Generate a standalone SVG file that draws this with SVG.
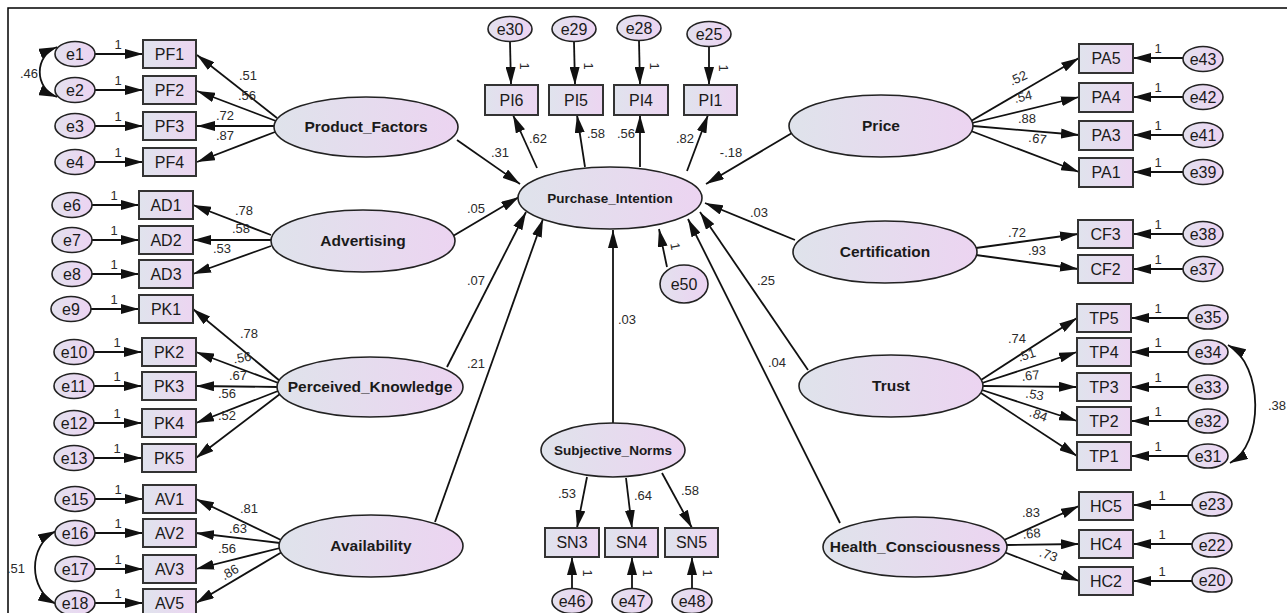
<svg xmlns="http://www.w3.org/2000/svg" width="1287" height="613" viewBox="0 0 1287 613">
<defs>
<linearGradient id="gl" x1="0" y1="0" x2="1" y2="0"><stop offset="0" stop-color="#dfe3eb"/><stop offset="1" stop-color="#ecd4f1"/></linearGradient>
<linearGradient id="gb" x1="0" y1="0" x2="1" y2="0"><stop offset="0" stop-color="#e0e3ed"/><stop offset="1" stop-color="#ecd5f1"/></linearGradient>
<linearGradient id="ge" x1="0" y1="0" x2="1" y2="0"><stop offset="0" stop-color="#e3e1ee"/><stop offset="1" stop-color="#ecd3f2"/></linearGradient>
<marker id="ah" viewBox="0 0 18 10" refX="18" refY="5" markerWidth="18" markerHeight="10" markerUnits="userSpaceOnUse" orient="auto-start-reverse"><path d="M0,0 L18,5 L0,10 z" fill="#111"/></marker>
</defs>
<style>
.lat{fill:url(#gl);stroke:#222;stroke-width:1.6}
.box{fill:url(#gb);stroke:#333;stroke-width:2}
.err{fill:url(#ge);stroke:#222;stroke-width:1.6}
.lt{font-family:'Liberation Sans',Arial,sans-serif;font-weight:bold;font-size:15.5px;text-anchor:middle;fill:#1a1a1a}
.bt{font-family:'Liberation Sans',Arial,sans-serif;font-size:16px;text-anchor:middle;fill:#1a1a1a}
.et{font-family:'Liberation Sans',Arial,sans-serif;font-size:16px;text-anchor:middle;fill:#1a1a1a}
.nl{font-family:'Liberation Sans',Arial,sans-serif;font-size:13px;text-anchor:middle;fill:#2a2a2a}
.c line,.c path{stroke:#111;stroke-width:1.8;fill:none;marker-end:url(#ah)}
.c path.dbl{marker-start:url(#ah)}
</style>
<rect x="0" y="0" width="1287" height="613" fill="#fff"/>
<rect x="8" y="8" width="1300" height="620" fill="none" stroke="#000" stroke-width="1.5"/>

<g id="connectors" class="c">
<line x1="95" y1="54" x2="143" y2="54"/>
<line x1="95" y1="90" x2="143" y2="90"/>
<line x1="95" y1="126" x2="143" y2="126"/>
<line x1="95" y1="162" x2="143" y2="162"/>
<line x1="92" y1="205" x2="139" y2="205"/>
<line x1="92" y1="240" x2="139" y2="240"/>
<line x1="92" y1="274" x2="139" y2="274"/>
<line x1="91" y1="309" x2="139" y2="309"/>
<line x1="94" y1="352" x2="142" y2="352"/>
<line x1="94" y1="386" x2="142" y2="386"/>
<line x1="94" y1="423" x2="142" y2="423"/>
<line x1="94" y1="458" x2="142" y2="458"/>
<line x1="95" y1="499" x2="143" y2="499"/>
<line x1="95" y1="533" x2="143" y2="533"/>
<line x1="95" y1="569" x2="143" y2="569"/>
<line x1="95" y1="603" x2="143" y2="603"/>
<line x1="277" y1="118" x2="197" y2="55"/>
<line x1="276" y1="121" x2="197" y2="91"/>
<line x1="274" y1="126" x2="197" y2="126"/>
<line x1="275" y1="132" x2="197" y2="162"/>
<line x1="271" y1="235" x2="193" y2="205"/>
<line x1="271" y1="240" x2="193" y2="240"/>
<line x1="271" y1="246" x2="193" y2="274"/>
<line x1="280" y1="381" x2="193" y2="309"/>
<line x1="281" y1="384" x2="196" y2="352"/>
<line x1="278" y1="387" x2="196" y2="386"/>
<line x1="278" y1="391" x2="196" y2="423"/>
<line x1="280" y1="394" x2="196" y2="458"/>
<line x1="281" y1="540" x2="196" y2="499"/>
<line x1="280" y1="543" x2="196" y2="533"/>
<line x1="280" y1="548" x2="196" y2="569"/>
<line x1="282" y1="552" x2="196" y2="603"/>
<path class="dbl" d="M57 47 C34 56, 34 88, 57 97"/>
<path class="dbl" d="M56 531 C28 545, 28 590, 56 604"/>
<path class="dbl" d="M1228 345 C1264 365, 1264 445, 1230 463"/>
<line x1="457" y1="140" x2="520" y2="184"/>
<line x1="453" y1="236" x2="519" y2="197"/>
<line x1="447" y1="367" x2="526" y2="212"/>
<line x1="435" y1="522" x2="543" y2="219"/>
<line x1="613" y1="423" x2="613" y2="230"/>
<line x1="667" y1="267" x2="659" y2="229"/>
<line x1="792" y1="133" x2="706" y2="184"/>
<line x1="795" y1="240" x2="705" y2="203"/>
<line x1="808" y1="370" x2="700" y2="212"/>
<line x1="840" y1="523" x2="688" y2="219"/>
<line x1="537" y1="168" x2="513" y2="115"/>
<line x1="585" y1="167" x2="577" y2="115"/>
<line x1="640" y1="167" x2="640" y2="115"/>
<line x1="687" y1="171" x2="708" y2="115"/>
<line x1="510" y1="42" x2="511" y2="85"/>
<line x1="574" y1="42" x2="575" y2="85"/>
<line x1="639" y1="41" x2="640" y2="85"/>
<line x1="709" y1="47" x2="709" y2="85"/>
<line x1="587" y1="477" x2="577" y2="528"/>
<line x1="626" y1="478" x2="632" y2="528"/>
<line x1="662" y1="473" x2="692" y2="528"/>
<line x1="572" y1="589" x2="572" y2="557"/>
<line x1="632" y1="589" x2="632" y2="557"/>
<line x1="692" y1="589" x2="692" y2="557"/>
<line x1="971" y1="121" x2="1079" y2="58"/>
<line x1="972" y1="123" x2="1079" y2="97"/>
<line x1="973" y1="126" x2="1079" y2="135"/>
<line x1="971" y1="131" x2="1079" y2="172"/>
<line x1="976" y1="248" x2="1078" y2="234"/>
<line x1="976" y1="255" x2="1078" y2="269"/>
<line x1="981" y1="380" x2="1077" y2="318"/>
<line x1="982" y1="383" x2="1077" y2="352"/>
<line x1="983" y1="386" x2="1077" y2="387"/>
<line x1="982" y1="390" x2="1077" y2="421"/>
<line x1="981" y1="393" x2="1077" y2="456"/>
<line x1="1004" y1="540" x2="1079" y2="506"/>
<line x1="1007" y1="545" x2="1079" y2="544"/>
<line x1="1004" y1="552" x2="1079" y2="581"/>
<line x1="1183" y1="58" x2="1133" y2="58"/>
<line x1="1183" y1="97" x2="1133" y2="97"/>
<line x1="1183" y1="135" x2="1133" y2="135"/>
<line x1="1183" y1="172" x2="1133" y2="172"/>
<line x1="1183" y1="234" x2="1133" y2="234"/>
<line x1="1183" y1="269" x2="1133" y2="269"/>
<line x1="1188" y1="318" x2="1131" y2="318"/>
<line x1="1188" y1="352" x2="1131" y2="352"/>
<line x1="1188" y1="387" x2="1131" y2="387"/>
<line x1="1188" y1="421" x2="1131" y2="421"/>
<line x1="1188" y1="456" x2="1131" y2="456"/>
<line x1="1192" y1="505" x2="1133" y2="505"/>
<line x1="1192" y1="544" x2="1133" y2="544"/>
<line x1="1192" y1="581" x2="1133" y2="581"/>
</g>

<g id="labels">
<text class="nl" x="118" y="49">1</text><text class="nl" x="118" y="85">1</text><text class="nl" x="118" y="121">1</text><text class="nl" x="118" y="157">1</text>
<text class="nl" x="114" y="200">1</text><text class="nl" x="114" y="235">1</text><text class="nl" x="114" y="269">1</text><text class="nl" x="114" y="304">1</text>
<text class="nl" x="117" y="347">1</text><text class="nl" x="117" y="381">1</text><text class="nl" x="117" y="418">1</text><text class="nl" x="117" y="453">1</text>
<text class="nl" x="118" y="494">1</text><text class="nl" x="118" y="528">1</text><text class="nl" x="118" y="564">1</text><text class="nl" x="118" y="598">1</text>
<text class="nl" x="248" y="80">.51</text><text class="nl" x="247" y="100">.56</text><text class="nl" x="225" y="120">.72</text><text class="nl" x="225" y="140">.87</text>
<text class="nl" x="244" y="215">.78</text><text class="nl" x="241" y="233">.58</text><text class="nl" x="222" y="253">.53</text>
<text class="nl" x="249" y="338">.78</text><text class="nl" transform="translate(243,362) rotate(-10)">.56</text><text class="nl" x="238" y="380">.67</text><text class="nl" x="227" y="398">.56</text><text class="nl" x="227" y="420">.52</text>
<text class="nl" x="249" y="513">.81</text><text class="nl" x="238" y="533">.63</text><text class="nl" x="227" y="553">.56</text><text class="nl" transform="translate(232,576) rotate(-30)">.86</text>
<text class="nl" x="29" y="78">.46</text><text class="nl" x="16" y="573">.51</text><text class="nl" x="1268" y="410" style="text-anchor:start">.38</text>
<text class="nl" x="500" y="157">.31</text><text class="nl" x="476" y="213">.05</text><text class="nl" x="476" y="285">.07</text><text class="nl" x="476" y="368">.21</text>
<text class="nl" x="627" y="324">.03</text><text class="nl" x="731" y="157">-.18</text><text class="nl" x="759" y="217">.03</text><text class="nl" x="766" y="285">.25</text><text class="nl" x="777" y="367">.04</text>
<text class="nl" x="538" y="143">.62</text><text class="nl" x="596" y="138">.58</text><text class="nl" x="626" y="138">.56</text><text class="nl" x="685" y="143">.82</text>
<text class="nl" transform="translate(520,66) rotate(90)">1</text><text class="nl" transform="translate(584,66) rotate(90)">1</text><text class="nl" transform="translate(650,66) rotate(90)">1</text><text class="nl" transform="translate(719,68) rotate(90)">1</text>
<text class="nl" transform="translate(671,247) rotate(80)">1</text>
<text class="nl" transform="translate(583,573) rotate(90)">1</text><text class="nl" transform="translate(643,573) rotate(90)">1</text><text class="nl" transform="translate(703,573) rotate(90)">1</text>
<text class="nl" x="567" y="498">.53</text><text class="nl" x="643" y="500">.64</text><text class="nl" x="690" y="495">.58</text>
<text class="nl" transform="translate(1020,82) rotate(-25)">.52</text><text class="nl" transform="translate(1024,101) rotate(-12)">.54</text><text class="nl" x="1027" y="123">.88</text><text class="nl" transform="translate(1037,143) rotate(8)">.67</text>
<text class="nl" x="1017" y="237">.72</text><text class="nl" x="1037" y="255">.93</text>
<text class="nl" x="1017" y="343">.74</text><text class="nl" transform="translate(1028,359) rotate(-18)">.51</text><text class="nl" transform="translate(1031,380) rotate(-6)">.67</text><text class="nl" transform="translate(1034,399) rotate(10)">.53</text><text class="nl" transform="translate(1037,419) rotate(20)">.84</text>
<text class="nl" x="1031" y="517">.83</text><text class="nl" transform="translate(1032,538) rotate(-5)">.68</text><text class="nl" transform="translate(1047,559) rotate(20)">.73</text>
<text class="nl" x="1158" y="53">1</text><text class="nl" x="1158" y="92">1</text><text class="nl" x="1158" y="130">1</text><text class="nl" x="1158" y="167">1</text>
<text class="nl" x="1158" y="229">1</text><text class="nl" x="1158" y="264">1</text>
<text class="nl" x="1158" y="313">1</text><text class="nl" x="1158" y="347">1</text><text class="nl" x="1158" y="382">1</text><text class="nl" x="1158" y="416">1</text><text class="nl" x="1158" y="451">1</text>
<text class="nl" x="1162" y="500">1</text><text class="nl" x="1162" y="539">1</text><text class="nl" x="1162" y="576">1</text>
</g>

<g id="Product_Factors"><ellipse class="lat" cx="366" cy="127" rx="92" ry="30"/><text class="lt" x="366" y="132">Product_Factors</text></g>
<g id="Advertising"><ellipse class="lat" cx="363" cy="241" rx="92" ry="31"/><text class="lt" x="363" y="246">Advertising</text></g>
<g id="Perceived_Knowledge"><ellipse class="lat" cx="370" cy="387" rx="93" ry="30"/><text class="lt" x="370" y="392">Perceived_Knowledge</text></g>
<g id="Availability"><ellipse class="lat" cx="371" cy="546" rx="92" ry="31"/><text class="lt" x="371" y="551">Availability</text></g>
<g id="Purchase_Intention"><ellipse class="lat" cx="610" cy="198" rx="92" ry="31"/><text class="lt" x="610" y="203" style="font-size:13.5px">Purchase_Intention</text></g>
<g id="Subjective_Norms"><ellipse class="lat" cx="613" cy="450" rx="72" ry="27"/><text class="lt" x="613" y="455" style="font-size:13.5px">Subjective_Norms</text></g>
<g id="Price"><ellipse class="lat" cx="881" cy="126" rx="92" ry="31"/><text class="lt" x="881" y="131">Price</text></g>
<g id="Certification"><ellipse class="lat" cx="885" cy="252" rx="92" ry="31"/><text class="lt" x="885" y="257">Certification</text></g>
<g id="Trust"><ellipse class="lat" cx="891" cy="386" rx="92" ry="31"/><text class="lt" x="891" y="391">Trust</text></g>
<g id="Health_Consciousness"><ellipse class="lat" cx="915" cy="547" rx="92" ry="30"/><text class="lt" x="915" y="552">Health_Consciousness</text></g>

<g id="PF1"><rect class="box" x="143" y="40" width="53" height="28"/><text class="bt" x="169.5" y="60">PF1</text></g>
<g id="PF2"><rect class="box" x="143" y="76" width="53" height="28"/><text class="bt" x="169.5" y="96">PF2</text></g>
<g id="PF3"><rect class="box" x="143" y="112" width="53" height="28"/><text class="bt" x="169.5" y="132">PF3</text></g>
<g id="PF4"><rect class="box" x="143" y="148" width="53" height="28"/><text class="bt" x="169.5" y="168">PF4</text></g>
<g id="AD1"><rect class="box" x="139" y="191" width="54" height="28"/><text class="bt" x="166" y="211">AD1</text></g>
<g id="AD2"><rect class="box" x="139" y="226" width="54" height="28"/><text class="bt" x="166" y="246">AD2</text></g>
<g id="AD3"><rect class="box" x="139" y="260" width="54" height="28"/><text class="bt" x="166" y="280">AD3</text></g>
<g id="PK1"><rect class="box" x="139" y="295" width="54" height="28"/><text class="bt" x="166" y="315">PK1</text></g>
<g id="PK2"><rect class="box" x="142" y="338" width="54" height="28"/><text class="bt" x="169" y="358">PK2</text></g>
<g id="PK3"><rect class="box" x="142" y="372" width="54" height="28"/><text class="bt" x="169" y="392">PK3</text></g>
<g id="PK4"><rect class="box" x="142" y="409" width="54" height="28"/><text class="bt" x="169" y="429">PK4</text></g>
<g id="PK5"><rect class="box" x="142" y="444" width="54" height="28"/><text class="bt" x="169" y="464">PK5</text></g>
<g id="AV1"><rect class="box" x="143" y="485" width="53" height="28"/><text class="bt" x="169.5" y="505">AV1</text></g>
<g id="AV2"><rect class="box" x="143" y="519" width="53" height="28"/><text class="bt" x="169.5" y="539">AV2</text></g>
<g id="AV3"><rect class="box" x="143" y="555" width="53" height="28"/><text class="bt" x="169.5" y="575">AV3</text></g>
<g id="AV5"><rect class="box" x="143" y="589" width="53" height="28"/><text class="bt" x="169.5" y="609">AV5</text></g>

<g id="e1"><ellipse class="err" cx="75" cy="54" rx="20" ry="12.5"/><text class="et" x="75" y="59.5">e1</text></g>
<g id="e2"><ellipse class="err" cx="75" cy="90" rx="20" ry="12.5"/><text class="et" x="75" y="95.5">e2</text></g>
<g id="e3"><ellipse class="err" cx="75" cy="126" rx="20" ry="12.5"/><text class="et" x="75" y="131.5">e3</text></g>
<g id="e4"><ellipse class="err" cx="75" cy="162" rx="20" ry="12.5"/><text class="et" x="75" y="167.5">e4</text></g>
<g id="e6"><ellipse class="err" cx="72" cy="205" rx="20" ry="12.5"/><text class="et" x="72" y="210.5">e6</text></g>
<g id="e7"><ellipse class="err" cx="72" cy="240" rx="20" ry="12.5"/><text class="et" x="72" y="245.5">e7</text></g>
<g id="e8"><ellipse class="err" cx="72" cy="274" rx="20" ry="12.5"/><text class="et" x="72" y="279.5">e8</text></g>
<g id="e9"><ellipse class="err" cx="71" cy="309" rx="20" ry="12.5"/><text class="et" x="71" y="314.5">e9</text></g>
<g id="e10"><ellipse class="err" cx="74" cy="352" rx="20" ry="12.5"/><text class="et" x="74" y="357.5">e10</text></g>
<g id="e11"><ellipse class="err" cx="74" cy="386" rx="20" ry="12.5"/><text class="et" x="74" y="391.5">e11</text></g>
<g id="e12"><ellipse class="err" cx="74" cy="423" rx="20" ry="12.5"/><text class="et" x="74" y="428.5">e12</text></g>
<g id="e13"><ellipse class="err" cx="74" cy="458" rx="20" ry="12.5"/><text class="et" x="74" y="463.5">e13</text></g>
<g id="e15"><ellipse class="err" cx="75" cy="499" rx="20" ry="12.5"/><text class="et" x="75" y="504.5">e15</text></g>
<g id="e16"><ellipse class="err" cx="75" cy="533" rx="20" ry="12.5"/><text class="et" x="75" y="538.5">e16</text></g>
<g id="e17"><ellipse class="err" cx="75" cy="569" rx="20" ry="12.5"/><text class="et" x="75" y="574.5">e17</text></g>
<g id="e18"><ellipse class="err" cx="75" cy="603" rx="20" ry="12.5"/><text class="et" x="75" y="608.5">e18</text></g>

<g id="PI6"><rect class="box" x="485" y="85" width="53" height="30"/><text class="bt" x="511.5" y="106">PI6</text></g>
<g id="PI5"><rect class="box" x="549" y="85" width="54" height="30"/><text class="bt" x="576" y="106">PI5</text></g>
<g id="PI4"><rect class="box" x="614" y="85" width="54" height="30"/><text class="bt" x="641" y="106">PI4</text></g>
<g id="PI1"><rect class="box" x="684" y="85" width="53" height="30"/><text class="bt" x="710.5" y="106">PI1</text></g>
<g id="e30"><ellipse class="err" cx="510" cy="29" rx="22" ry="12.5"/><text class="et" x="510" y="34.5">e30</text></g>
<g id="e29"><ellipse class="err" cx="574" cy="29" rx="22" ry="12.5"/><text class="et" x="574" y="34.5">e29</text></g>
<g id="e28"><ellipse class="err" cx="639" cy="28" rx="22" ry="12.5"/><text class="et" x="639" y="33.5">e28</text></g>
<g id="e25"><ellipse class="err" cx="709" cy="34" rx="22" ry="12.5"/><text class="et" x="709" y="39.5">e25</text></g>
<g id="e50"><ellipse class="err" cx="684" cy="284" rx="24" ry="19"/><text class="et" x="684" y="290">e50</text></g>

<g id="SN3"><rect class="box" x="545" y="528" width="54" height="29"/><text class="bt" x="572" y="548">SN3</text></g>
<g id="SN4"><rect class="box" x="605" y="528" width="53" height="29"/><text class="bt" x="631.5" y="548">SN4</text></g>
<g id="SN5"><rect class="box" x="665" y="528" width="53" height="29"/><text class="bt" x="691.5" y="548">SN5</text></g>
<g id="e46"><ellipse class="err" cx="572" cy="601" rx="20" ry="12.5"/><text class="et" x="572" y="606.5">e46</text></g>
<g id="e47"><ellipse class="err" cx="632" cy="601" rx="20" ry="12.5"/><text class="et" x="632" y="606.5">e47</text></g>
<g id="e48"><ellipse class="err" cx="692" cy="601" rx="20" ry="12.5"/><text class="et" x="692" y="606.5">e48</text></g>

<g id="PA5"><rect class="box" x="1079" y="44" width="54" height="29"/><text class="bt" x="1106" y="64">PA5</text></g>
<g id="PA4"><rect class="box" x="1079" y="83" width="54" height="29"/><text class="bt" x="1106" y="103">PA4</text></g>
<g id="PA3"><rect class="box" x="1079" y="121" width="54" height="29"/><text class="bt" x="1106" y="141">PA3</text></g>
<g id="PA1"><rect class="box" x="1079" y="158" width="54" height="29"/><text class="bt" x="1106" y="178">PA1</text></g>
<g id="CF3"><rect class="box" x="1078" y="220" width="55" height="28"/><text class="bt" x="1105.5" y="240">CF3</text></g>
<g id="CF2"><rect class="box" x="1078" y="255" width="55" height="28"/><text class="bt" x="1105.5" y="275">CF2</text></g>
<g id="TP5"><rect class="box" x="1077" y="304" width="54" height="28"/><text class="bt" x="1104" y="324">TP5</text></g>
<g id="TP4"><rect class="box" x="1077" y="338" width="54" height="28"/><text class="bt" x="1104" y="358">TP4</text></g>
<g id="TP3"><rect class="box" x="1077" y="373" width="54" height="28"/><text class="bt" x="1104" y="393">TP3</text></g>
<g id="TP2"><rect class="box" x="1077" y="407" width="54" height="28"/><text class="bt" x="1104" y="427">TP2</text></g>
<g id="TP1"><rect class="box" x="1077" y="442" width="54" height="28"/><text class="bt" x="1104" y="462">TP1</text></g>
<g id="HC5"><rect class="box" x="1079" y="492" width="54" height="28"/><text class="bt" x="1106" y="512">HC5</text></g>
<g id="HC4"><rect class="box" x="1079" y="530" width="54" height="28"/><text class="bt" x="1106" y="550">HC4</text></g>
<g id="HC2"><rect class="box" x="1079" y="567" width="54" height="28"/><text class="bt" x="1106" y="587">HC2</text></g>

<g id="e43"><ellipse class="err" cx="1203" cy="59" rx="20" ry="12.5"/><text class="et" x="1203" y="64.5">e43</text></g>
<g id="e42"><ellipse class="err" cx="1203" cy="97" rx="20" ry="12.5"/><text class="et" x="1203" y="102.5">e42</text></g>
<g id="e41"><ellipse class="err" cx="1203" cy="135" rx="20" ry="12.5"/><text class="et" x="1203" y="140.5">e41</text></g>
<g id="e39"><ellipse class="err" cx="1203" cy="172" rx="20" ry="12.5"/><text class="et" x="1203" y="177.5">e39</text></g>
<g id="e38"><ellipse class="err" cx="1203" cy="234" rx="20" ry="12.5"/><text class="et" x="1203" y="239.5">e38</text></g>
<g id="e37"><ellipse class="err" cx="1203" cy="269" rx="20" ry="12.5"/><text class="et" x="1203" y="274.5">e37</text></g>
<g id="e35"><ellipse class="err" cx="1208" cy="317" rx="20" ry="12"/><text class="et" x="1208" y="322.5">e35</text></g>
<g id="e34"><ellipse class="err" cx="1208" cy="352" rx="20" ry="12"/><text class="et" x="1208" y="357.5">e34</text></g>
<g id="e33"><ellipse class="err" cx="1208" cy="387" rx="20" ry="12"/><text class="et" x="1208" y="392.5">e33</text></g>
<g id="e32"><ellipse class="err" cx="1208" cy="421" rx="20" ry="12"/><text class="et" x="1208" y="426.5">e32</text></g>
<g id="e31"><ellipse class="err" cx="1208" cy="456" rx="20" ry="12"/><text class="et" x="1208" y="461.5">e31</text></g>
<g id="e23"><ellipse class="err" cx="1212" cy="504" rx="20" ry="12"/><text class="et" x="1212" y="509.5">e23</text></g>
<g id="e22"><ellipse class="err" cx="1212" cy="545" rx="20" ry="12"/><text class="et" x="1212" y="550.5">e22</text></g>
<g id="e20"><ellipse class="err" cx="1212" cy="580" rx="20" ry="12"/><text class="et" x="1212" y="585.5">e20</text></g>
</svg>
